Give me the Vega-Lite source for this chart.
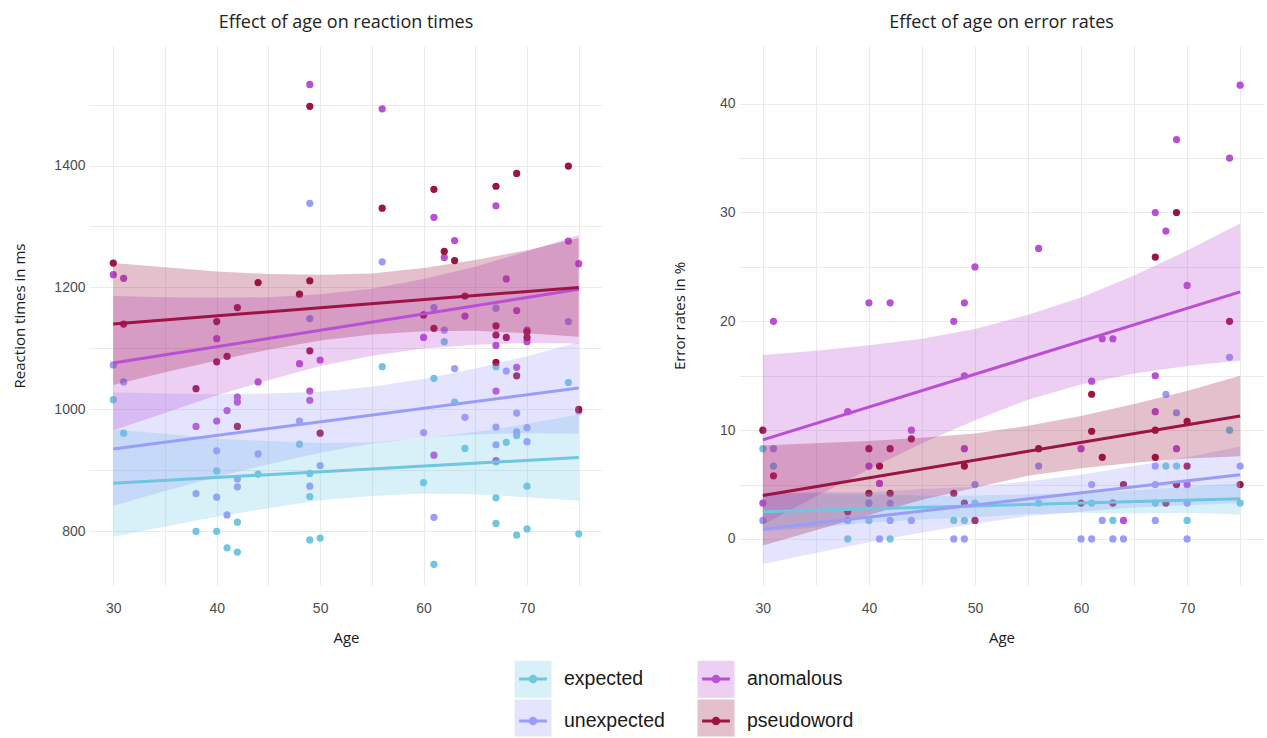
{
  "$schema": "https://vega.github.io/schema/vega-lite/v6.json",
  "background": "white",
  "padding": {"left": 12, "top": 14, "right": 2, "bottom": 0},
  "datasets": {
    "rt": [
      {"a":30,"c":"expected","v":1016},{"a":31,"c":"expected","v":961},{"a":38,"c":"expected","v":800},{"a":40,"c":"expected","v":899},{"a":40,"c":"expected","v":800},{"a":41,"c":"expected","v":773},{"a":42,"c":"expected","v":815},{"a":42,"c":"expected","v":766},{"a":44,"c":"expected","v":894},{"a":48,"c":"expected","v":943},{"a":49,"c":"expected","v":895},{"a":49,"c":"expected","v":857},{"a":49,"c":"expected","v":786},{"a":50,"c":"expected","v":789},{"a":56,"c":"expected","v":1070},{"a":60,"c":"expected","v":880},{"a":61,"c":"expected","v":1051},{"a":61,"c":"expected","v":746},{"a":62,"c":"expected","v":1111},{"a":63,"c":"expected","v":1012},{"a":64,"c":"expected","v":936},{"a":67,"c":"expected","v":1070},{"a":67,"c":"expected","v":914},{"a":67,"c":"expected","v":855},{"a":67,"c":"expected","v":813},{"a":68,"c":"expected","v":946},{"a":69,"c":"expected","v":957},{"a":69,"c":"expected","v":794},{"a":70,"c":"expected","v":874},{"a":70,"c":"expected","v":804},{"a":74,"c":"expected","v":1044},{"a":75,"c":"expected","v":796},
      {"a":30,"c":"unexpected","v":1073},{"a":31,"c":"unexpected","v":1045},{"a":38,"c":"unexpected","v":862},{"a":40,"c":"unexpected","v":932},{"a":40,"c":"unexpected","v":856},{"a":41,"c":"unexpected","v":827},{"a":42,"c":"unexpected","v":886},{"a":42,"c":"unexpected","v":873},{"a":44,"c":"unexpected","v":927},{"a":48,"c":"unexpected","v":981},{"a":49,"c":"unexpected","v":1338},{"a":49,"c":"unexpected","v":1149},{"a":49,"c":"unexpected","v":874},{"a":50,"c":"unexpected","v":908},{"a":56,"c":"unexpected","v":1242},{"a":60,"c":"unexpected","v":962},{"a":61,"c":"unexpected","v":1167},{"a":61,"c":"unexpected","v":823},{"a":62,"c":"unexpected","v":1130},{"a":63,"c":"unexpected","v":1067},{"a":64,"c":"unexpected","v":987},{"a":67,"c":"unexpected","v":1166},{"a":67,"c":"unexpected","v":971},{"a":67,"c":"unexpected","v":942},{"a":68,"c":"unexpected","v":1063},{"a":69,"c":"unexpected","v":994},{"a":69,"c":"unexpected","v":963},{"a":70,"c":"unexpected","v":970},{"a":70,"c":"unexpected","v":947},{"a":74,"c":"unexpected","v":1144},{"a":75,"c":"unexpected","v":997},
      {"a":30,"c":"anomalous","v":1221},{"a":31,"c":"anomalous","v":1215},{"a":38,"c":"anomalous","v":972},{"a":40,"c":"anomalous","v":1116},{"a":40,"c":"anomalous","v":981},{"a":41,"c":"anomalous","v":998},{"a":42,"c":"anomalous","v":1020},{"a":42,"c":"anomalous","v":1012},{"a":44,"c":"anomalous","v":1045},{"a":48,"c":"anomalous","v":1075},{"a":49,"c":"anomalous","v":1533},{"a":49,"c":"anomalous","v":1030},{"a":49,"c":"anomalous","v":1015},{"a":50,"c":"anomalous","v":1081},{"a":56,"c":"anomalous","v":1493},{"a":60,"c":"anomalous","v":1118},{"a":61,"c":"anomalous","v":1315},{"a":61,"c":"anomalous","v":925},{"a":62,"c":"anomalous","v":1249},{"a":63,"c":"anomalous","v":1277},{"a":64,"c":"anomalous","v":1153},{"a":67,"c":"anomalous","v":1334},{"a":67,"c":"anomalous","v":1105},{"a":67,"c":"anomalous","v":1030},{"a":67,"c":"anomalous","v":916},{"a":68,"c":"anomalous","v":1214},{"a":69,"c":"anomalous","v":1162},{"a":69,"c":"anomalous","v":1069},{"a":70,"c":"anomalous","v":1130},{"a":70,"c":"anomalous","v":1111},{"a":74,"c":"anomalous","v":1276},{"a":75,"c":"anomalous","v":1239},
      {"a":30,"c":"pseudoword","v":1240},{"a":31,"c":"pseudoword","v":1140},{"a":38,"c":"pseudoword","v":1034},{"a":40,"c":"pseudoword","v":1144},{"a":40,"c":"pseudoword","v":1078},{"a":41,"c":"pseudoword","v":1087},{"a":42,"c":"pseudoword","v":1167},{"a":42,"c":"pseudoword","v":972},{"a":44,"c":"pseudoword","v":1208},{"a":48,"c":"pseudoword","v":1189},{"a":49,"c":"pseudoword","v":1497},{"a":49,"c":"pseudoword","v":1211},{"a":49,"c":"pseudoword","v":1096},{"a":50,"c":"pseudoword","v":961},{"a":56,"c":"pseudoword","v":1330},{"a":60,"c":"pseudoword","v":1155},{"a":61,"c":"pseudoword","v":1361},{"a":61,"c":"pseudoword","v":1133},{"a":62,"c":"pseudoword","v":1259},{"a":63,"c":"pseudoword","v":1244},{"a":64,"c":"pseudoword","v":1186},{"a":67,"c":"pseudoword","v":1366},{"a":67,"c":"pseudoword","v":1137},{"a":67,"c":"pseudoword","v":1122},{"a":67,"c":"pseudoword","v":1077},{"a":68,"c":"pseudoword","v":1118},{"a":69,"c":"pseudoword","v":1387},{"a":69,"c":"pseudoword","v":1055},{"a":70,"c":"pseudoword","v":1127},{"a":70,"c":"pseudoword","v":1118},{"a":74,"c":"pseudoword","v":1399},{"a":75,"c":"pseudoword","v":1000}
    ],
    "err": [
      {"a":30,"c":"expected","v":8.3},{"a":31,"c":"expected","v":6.7},{"a":38,"c":"expected","v":0},{"a":40,"c":"expected","v":1.7},{"a":40,"c":"expected","v":3.3},{"a":42,"c":"expected","v":0},{"a":48,"c":"expected","v":1.7},{"a":49,"c":"expected","v":1.7},{"a":50,"c":"expected","v":3.3},{"a":56,"c":"expected","v":3.3},{"a":61,"c":"expected","v":3.3},{"a":63,"c":"expected","v":1.7},{"a":67,"c":"expected","v":3.3},{"a":68,"c":"expected","v":6.7},{"a":69,"c":"expected","v":6.7},{"a":70,"c":"expected","v":1.7},{"a":74,"c":"expected","v":10.0},{"a":75,"c":"expected","v":3.3},
      {"a":30,"c":"unexpected","v":1.7},{"a":31,"c":"unexpected","v":8.3},{"a":38,"c":"unexpected","v":1.7},{"a":40,"c":"unexpected","v":3.3},{"a":41,"c":"unexpected","v":0},{"a":42,"c":"unexpected","v":3.3},{"a":42,"c":"unexpected","v":1.7},{"a":44,"c":"unexpected","v":1.7},{"a":48,"c":"unexpected","v":0},{"a":49,"c":"unexpected","v":0},{"a":50,"c":"unexpected","v":5.0},{"a":56,"c":"unexpected","v":6.7},{"a":60,"c":"unexpected","v":0},{"a":61,"c":"unexpected","v":5.0},{"a":61,"c":"unexpected","v":0},{"a":62,"c":"unexpected","v":1.7},{"a":63,"c":"unexpected","v":0},{"a":64,"c":"unexpected","v":0},{"a":67,"c":"unexpected","v":6.7},{"a":67,"c":"unexpected","v":5.0},{"a":67,"c":"unexpected","v":1.7},{"a":68,"c":"unexpected","v":13.3},{"a":69,"c":"unexpected","v":11.6},{"a":70,"c":"unexpected","v":3.3},{"a":70,"c":"unexpected","v":0},{"a":74,"c":"unexpected","v":16.7},{"a":75,"c":"unexpected","v":6.7},
      {"a":30,"c":"anomalous","v":3.3},{"a":31,"c":"anomalous","v":20.0},{"a":38,"c":"anomalous","v":11.7},{"a":40,"c":"anomalous","v":21.7},{"a":40,"c":"anomalous","v":6.7},{"a":41,"c":"anomalous","v":5.1},{"a":42,"c":"anomalous","v":21.7},{"a":44,"c":"anomalous","v":10.0},{"a":48,"c":"anomalous","v":20.0},{"a":49,"c":"anomalous","v":21.7},{"a":49,"c":"anomalous","v":15.0},{"a":49,"c":"anomalous","v":8.3},{"a":50,"c":"anomalous","v":25.0},{"a":56,"c":"anomalous","v":26.7},{"a":60,"c":"anomalous","v":8.3},{"a":61,"c":"anomalous","v":14.5},{"a":62,"c":"anomalous","v":18.4},{"a":63,"c":"anomalous","v":18.4},{"a":64,"c":"anomalous","v":1.7},{"a":67,"c":"anomalous","v":30.0},{"a":67,"c":"anomalous","v":15.0},{"a":67,"c":"anomalous","v":11.7},{"a":68,"c":"anomalous","v":28.3},{"a":69,"c":"anomalous","v":36.7},{"a":69,"c":"anomalous","v":8.3},{"a":70,"c":"anomalous","v":23.3},{"a":70,"c":"anomalous","v":5.0},{"a":74,"c":"anomalous","v":35.0},{"a":75,"c":"anomalous","v":41.7},
      {"a":30,"c":"pseudoword","v":10.0},{"a":31,"c":"pseudoword","v":5.8},{"a":38,"c":"pseudoword","v":2.5},{"a":40,"c":"pseudoword","v":8.3},{"a":40,"c":"pseudoword","v":4.2},{"a":41,"c":"pseudoword","v":6.7},{"a":42,"c":"pseudoword","v":8.3},{"a":42,"c":"pseudoword","v":4.2},{"a":44,"c":"pseudoword","v":9.2},{"a":48,"c":"pseudoword","v":4.2},{"a":49,"c":"pseudoword","v":6.7},{"a":49,"c":"pseudoword","v":3.3},{"a":50,"c":"pseudoword","v":1.7},{"a":56,"c":"pseudoword","v":8.3},{"a":60,"c":"pseudoword","v":3.3},{"a":61,"c":"pseudoword","v":13.3},{"a":61,"c":"pseudoword","v":9.9},{"a":62,"c":"pseudoword","v":7.5},{"a":63,"c":"pseudoword","v":3.3},{"a":64,"c":"pseudoword","v":5.0},{"a":67,"c":"pseudoword","v":25.9},{"a":67,"c":"pseudoword","v":10.0},{"a":67,"c":"pseudoword","v":7.5},{"a":68,"c":"pseudoword","v":3.3},{"a":69,"c":"pseudoword","v":30.0},{"a":69,"c":"pseudoword","v":5.0},{"a":70,"c":"pseudoword","v":10.8},{"a":70,"c":"pseudoword","v":6.7},{"a":74,"c":"pseudoword","v":20.0},{"a":75,"c":"pseudoword","v":5.0}
    ],
    "rtband": [
      {"a":30,"g":"expected","lo":791,"hi":967},{"a":35,"g":"expected","lo":808,"hi":960},{"a":40,"g":"expected","lo":824,"hi":952},{"a":45,"g":"expected","lo":838,"hi":948},{"a":50,"g":"expected","lo":851,"hi":945},{"a":55,"g":"expected","lo":858,"hi":946},{"a":60,"g":"expected","lo":862,"hi":953},{"a":65,"g":"expected","lo":861,"hi":963},{"a":70,"g":"expected","lo":856,"hi":976},{"a":75,"g":"expected","lo":850,"hi":992},
      {"a":30,"g":"unexpected","lo":842,"hi":1028},{"a":35,"g":"unexpected","lo":866,"hi":1026},{"a":40,"g":"unexpected","lo":889,"hi":1025},{"a":45,"g":"unexpected","lo":910,"hi":1026},{"a":50,"g":"unexpected","lo":929,"hi":1029},{"a":55,"g":"unexpected","lo":944,"hi":1037},{"a":60,"g":"unexpected","lo":954,"hi":1050},{"a":65,"g":"unexpected","lo":959,"hi":1067},{"a":70,"g":"unexpected","lo":961,"hi":1087},{"a":75,"g":"unexpected","lo":960,"hi":1110},
      {"a":30,"g":"anomalous","lo":966,"hi":1186},{"a":35,"g":"anomalous","lo":994,"hi":1184},{"a":40,"g":"anomalous","lo":1023,"hi":1183},{"a":45,"g":"anomalous","lo":1048,"hi":1184},{"a":50,"g":"anomalous","lo":1071,"hi":1189},{"a":55,"g":"anomalous","lo":1088,"hi":1198},{"a":60,"g":"anomalous","lo":1100,"hi":1214},{"a":65,"g":"anomalous","lo":1106,"hi":1234},{"a":70,"g":"anomalous","lo":1109,"hi":1259},{"a":75,"g":"anomalous","lo":1108,"hi":1286},
      {"a":30,"g":"pseudoword","lo":1040,"hi":1240},{"a":35,"g":"pseudoword","lo":1061,"hi":1233},{"a":40,"g":"pseudoword","lo":1080,"hi":1226},{"a":45,"g":"pseudoword","lo":1098,"hi":1222},{"a":50,"g":"pseudoword","lo":1113,"hi":1221},{"a":55,"g":"pseudoword","lo":1123,"hi":1223},{"a":60,"g":"pseudoword","lo":1128,"hi":1232},{"a":65,"g":"pseudoword","lo":1129,"hi":1245},{"a":70,"g":"pseudoword","lo":1125,"hi":1261},{"a":75,"g":"pseudoword","lo":1119,"hi":1281}
    ],
    "errband": [
      {"a":30,"g":"expected","lo":0.7,"hi":4.3},{"a":35,"g":"expected","lo":1.05,"hi":4.15},{"a":40,"g":"expected","lo":1.5,"hi":4.1},{"a":45,"g":"expected","lo":1.8,"hi":4.0},{"a":50,"g":"expected","lo":2.0,"hi":4.0},{"a":55,"g":"expected","lo":2.3,"hi":4.1},{"a":60,"g":"expected","lo":2.4,"hi":4.2},{"a":65,"g":"expected","lo":2.35,"hi":4.45},{"a":70,"g":"expected","lo":2.4,"hi":4.8},{"a":75,"g":"expected","lo":2.25,"hi":5.15},
      {"a":30,"g":"unexpected","lo":-2.3,"hi":4.1},{"a":35,"g":"unexpected","lo":-1.3,"hi":4.3},{"a":40,"g":"unexpected","lo":-0.3,"hi":4.3},{"a":45,"g":"unexpected","lo":0.6,"hi":4.6},{"a":50,"g":"unexpected","lo":1.4,"hi":4.8},{"a":55,"g":"unexpected","lo":2.1,"hi":5.3},{"a":60,"g":"unexpected","lo":2.5,"hi":5.9},{"a":65,"g":"unexpected","lo":2.9,"hi":6.7},{"a":70,"g":"unexpected","lo":3.1,"hi":7.5},{"a":75,"g":"unexpected","lo":3.3,"hi":8.5},
      {"a":30,"g":"anomalous","lo":1.3,"hi":16.9},{"a":35,"g":"anomalous","lo":3.9,"hi":17.3},{"a":40,"g":"anomalous","lo":6.4,"hi":17.8},{"a":45,"g":"anomalous","lo":8.8,"hi":18.4},{"a":50,"g":"anomalous","lo":10.9,"hi":19.3},{"a":55,"g":"anomalous","lo":12.8,"hi":20.6},{"a":60,"g":"anomalous","lo":14.2,"hi":22.2},{"a":65,"g":"anomalous","lo":15.2,"hi":24.2},{"a":70,"g":"anomalous","lo":15.9,"hi":26.5},{"a":75,"g":"anomalous","lo":16.4,"hi":29.0},
      {"a":30,"g":"pseudoword","lo":-0.6,"hi":8.6},{"a":35,"g":"pseudoword","lo":0.8,"hi":8.8},{"a":40,"g":"pseudoword","lo":2.2,"hi":9.0},{"a":45,"g":"pseudoword","lo":3.6,"hi":9.3},{"a":50,"g":"pseudoword","lo":4.7,"hi":9.7},{"a":55,"g":"pseudoword","lo":5.8,"hi":10.4},{"a":60,"g":"pseudoword","lo":6.5,"hi":11.3},{"a":65,"g":"pseudoword","lo":7.0,"hi":12.4},{"a":70,"g":"pseudoword","lo":7.4,"hi":13.6},{"a":75,"g":"pseudoword","lo":7.6,"hi":15.0}
    ],
    "rtline": [
      {"a":30,"c":"expected","f":879},{"a":75,"c":"expected","f":921},
      {"a":30,"c":"unexpected","f":935},{"a":75,"c":"unexpected","f":1035},
      {"a":30,"c":"anomalous","f":1076},{"a":75,"c":"anomalous","f":1197},
      {"a":30,"c":"pseudoword","f":1140},{"a":75,"c":"pseudoword","f":1200}
    ],
    "errline": [
      {"a":30,"c":"expected","f":2.5},{"a":75,"c":"expected","f":3.7},
      {"a":30,"c":"unexpected","f":0.9},{"a":75,"c":"unexpected","f":5.9},
      {"a":30,"c":"anomalous","f":9.1},{"a":75,"c":"anomalous","f":22.7},
      {"a":30,"c":"pseudoword","f":4.0},{"a":75,"c":"pseudoword","f":11.3}
    ]
  },
  "spacing": 70,
  "resolve": {"scale": {"color": "shared", "fill": "shared"}, "legend": {"color": "shared", "fill": "shared"}},
  "hconcat": [
    {
      "title": {"text": "Effect of age on reaction times", "font": "Open Sans", "fontSize": 18, "fontWeight": "normal", "color": "#222222", "anchor": "middle", "offset": 14},
      "width": 512,
      "height": 539,
      "layer": [
        {
          "data": {"name": "rt"},
          "mark": {"type": "point", "filled": true, "size": 52, "opacity": 1},
          "encoding": {
            "x": {"field": "a", "type": "quantitative", "title": "Age", "scale": {"domain": [27.75, 77.25], "nice": false, "zero": false},
                  "axis": {"values": [30,35,40,45,50,55,60,65,70,75], "labelExpr": "datum.value % 10 === 0 ? datum.label : ''", "labelPadding": 16, "titlePadding": 15}},
            "y": {"field": "v", "type": "quantitative", "title": "Reaction times in ms", "scale": {"domain": [712, 1596], "nice": false, "zero": false},
                  "axis": {"values": [800,900,1000,1100,1200,1300,1400,1500], "format": "d", "labelExpr": "datum.value % 200 === 0 ? datum.label : ''", "labelPadding": 5, "titlePadding": 26}},
            "color": {"field": "c", "type": "nominal",
                      "scale": {"domain": ["expected", "anomalous", "unexpected", "pseudoword"], "range": ["#6EC6E0", "#B94FD4", "#9A9CFA", "#9B1444"]},
                      "legend": {"title": null, "orient": "none", "legendX": 423, "legendY": 613, "direction": "horizontal", "columns": 2, "columnPadding": 26, "rowPadding": 0, "padding": 0,
                                 "symbolType": "M-1,-0.81M1,0.81M-0.75,0H0.75M-0.15,0A0.15,0.15 0 1,1 0.15,0A0.15,0.15 0 1,1 -0.15,0Z", "symbolSize": 1369, "symbolStrokeWidth": 3,
                                 "labelFont": "Liberation Sans", "labelFontSize": 19.5, "labelOffset": 11, "labelColor": "#1A1A1A", "zindex": 2,
                                 "encode": {"symbols": {"update": {"fill": {"scale": "color", "field": "value"}, "stroke": {"scale": "color", "field": "value"}, "opacity": {"value": 1}}}}}}
          }
        },
        {
          "data": {"name": "rtband"},
          "mark": {"type": "area", "fillOpacity": 0.27},
          "encoding": {
            "x": {"field": "a", "type": "quantitative", "title": "Age"},
            "y": {"field": "lo", "type": "quantitative", "stack": null, "title": "Reaction times in ms"},
            "y2": {"field": "hi"},
            "fill": {"field": "g", "type": "nominal", "sort": ["expected", "anomalous", "unexpected", "pseudoword"],
                     "scale": {"range": ["#6EC6E0", "#B94FD4", "#9A9CFA", "#9B1444"]},
                     "legend": {"title": null, "orient": "none", "legendX": 423, "legendY": 613, "direction": "horizontal", "columns": 2, "columnPadding": 143, "rowPadding": 0, "padding": 0,
                                "symbolType": "M-1,-1H1V1H-1Z", "symbolSize": 1369, "symbolStrokeWidth": 3, "symbolOpacity": 0.27,
                                "labelExpr": "''", "labelFontSize": 1, "labelOffset": 0, "zindex": 1}}
          }
        },
        {
          "data": {"name": "rtline"},
          "mark": {"type": "line", "strokeWidth": 3},
          "encoding": {
            "x": {"field": "a", "type": "quantitative", "title": "Age"},
            "y": {"field": "f", "type": "quantitative", "title": "Reaction times in ms"},
            "color": {"field": "c", "type": "nominal"}
          }
        }
      ]
    },
    {
      "title": {"text": "Effect of age on error rates", "font": "Open Sans", "fontSize": 18, "fontWeight": "normal", "color": "#222222", "anchor": "middle", "offset": 14},
      "width": 525,
      "height": 539,
      "layer": [
        {
          "data": {"name": "err"},
          "mark": {"type": "point", "filled": true, "size": 52, "opacity": 1},
          "encoding": {
            "x": {"field": "a", "type": "quantitative", "title": "Age", "scale": {"domain": [27.75, 77.25], "nice": false, "zero": false},
                  "axis": {"values": [30,35,40,45,50,55,60,65,70,75], "labelExpr": "datum.value % 10 === 0 ? datum.label : ''", "labelPadding": 16, "titlePadding": 15}},
            "y": {"field": "v", "type": "quantitative", "title": "Error rates in %", "scale": {"domain": [-4.23, 45.3], "nice": false, "zero": false},
                  "axis": {"values": [0,5,10,15,20,25,30,35,40], "format": "d", "labelExpr": "datum.value % 10 === 0 ? datum.label : ''", "labelPadding": 4, "titlePadding": 32}},
            "color": {"field": "c", "type": "nominal"}
          }
        },
        {
          "data": {"name": "errband"},
          "mark": {"type": "area", "fillOpacity": 0.27},
          "encoding": {
            "x": {"field": "a", "type": "quantitative", "title": "Age"},
            "y": {"field": "lo", "type": "quantitative", "stack": null, "title": "Error rates in %"},
            "y2": {"field": "hi"},
            "fill": {"field": "g", "type": "nominal", "sort": ["expected", "anomalous", "unexpected", "pseudoword"]}
          }
        },
        {
          "data": {"name": "errline"},
          "mark": {"type": "line", "strokeWidth": 3},
          "encoding": {
            "x": {"field": "a", "type": "quantitative", "title": "Age"},
            "y": {"field": "f", "type": "quantitative", "title": "Error rates in %"},
            "color": {"field": "c", "type": "nominal"}
          }
        }
      ]
    }
  ],
  "config": {
    "view": {"stroke": null},
    "axis": {"domain": false, "ticks": false, "gridColor": "#EBEBEB", "gridWidth": 1.1, "labelColor": "#4D4D4D", "labelFont": "Liberation Sans", "labelFontSize": 14, "titleFont": "Open Sans", "titleFontSize": 15, "titleFontWeight": "normal", "titleColor": "#1A1A1A", "labelOverlap": false, "labelFlush": false}
  }
}
